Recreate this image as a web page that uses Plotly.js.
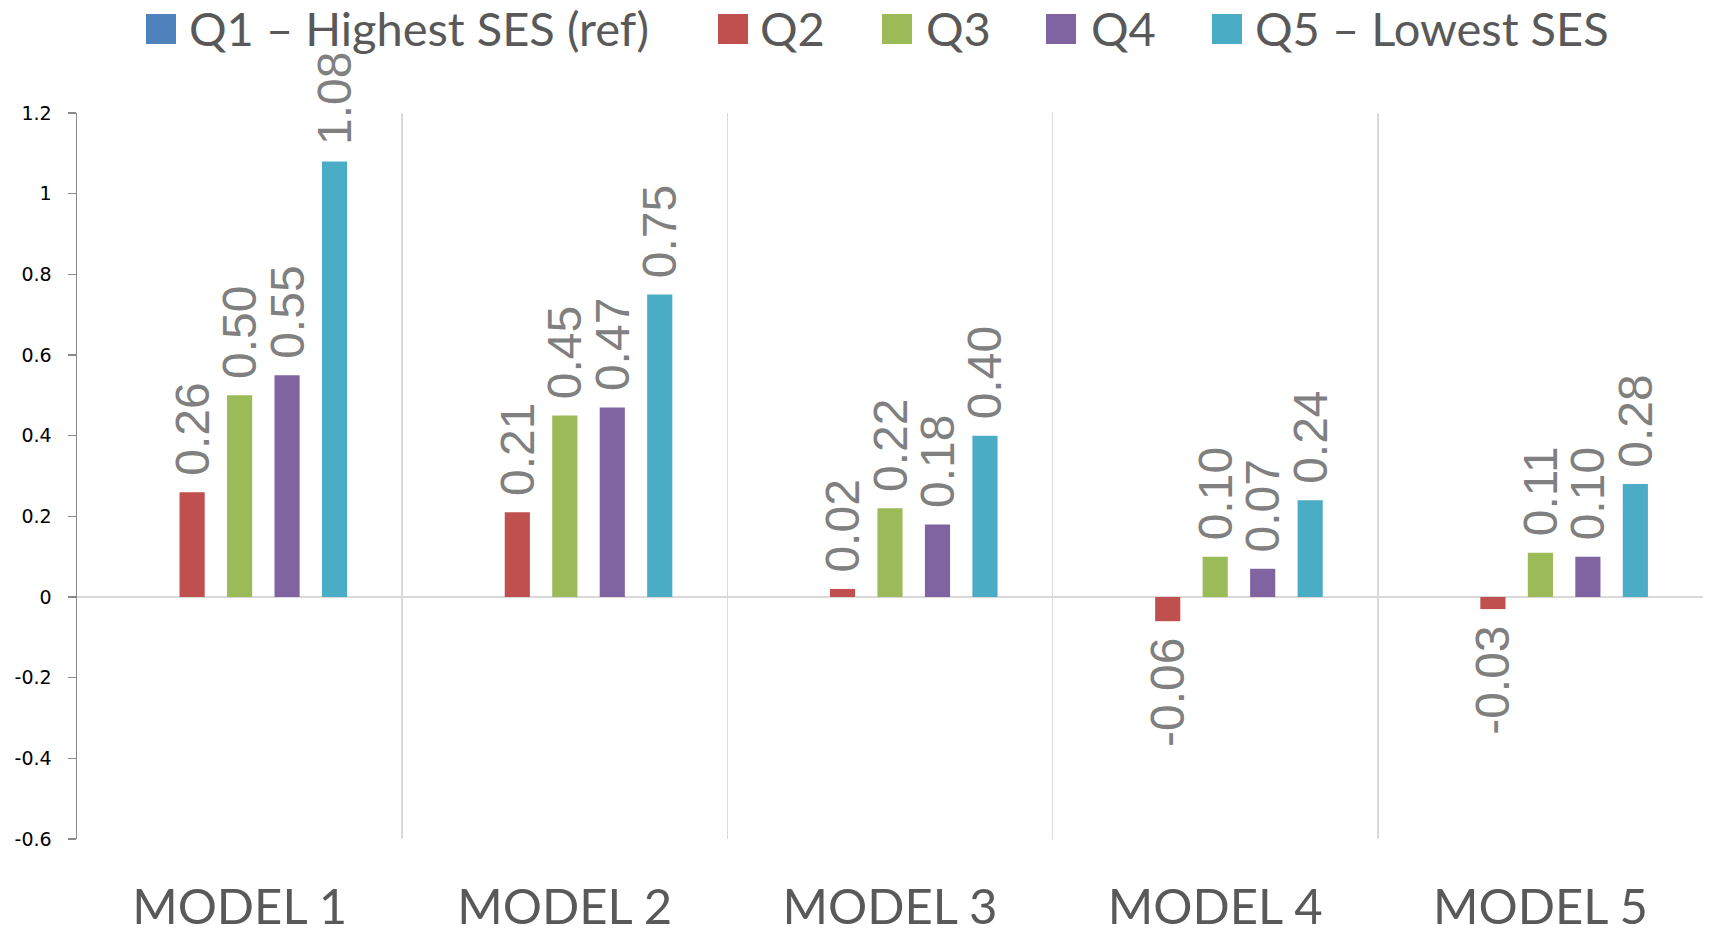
<!DOCTYPE html>
<html>
<head>
<meta charset="utf-8">
<script src="https://cdn.plot.ly/plotly-3.0.1.min.js"></script>
<style>
  html, body { margin: 0; padding: 0; background: #ffffff; }
  #chart { width: 1710px; height: 929px; }
</style>
</head>
<body>
<div id="chart"></div>
<script>
// Categories and series (coefficients by SES quintile, Q1 is the reference group)
const categories = ['MODEL 1', 'MODEL 2', 'MODEL 3', 'MODEL 4', 'MODEL 5'];
const seriesNames = ['Q1 – Highest SES (ref)', 'Q2', 'Q3', 'Q4', 'Q5 – Lowest SES'];
const seriesColors = ['#4f81bd', '#c0504d', '#9bbb59', '#8064a2', '#4bacc6'];
const q1Values = [0, 0, 0, 0, 0];
const q2Values = [0.26, 0.21, 0.02, -0.06, -0.03];
const q3Values = [0.50, 0.45, 0.22, 0.10, 0.11];
const q4Values = [0.55, 0.47, 0.18, 0.07, 0.10];
const q5Values = [1.08, 0.75, 0.40, 0.24, 0.28];
const yTickValues = [-0.6, -0.4, -0.2, 0, 0.2, 0.4, 0.6, 0.8, 1, 1.2];
const yTickLabels = ['-0.6', '-0.4', '-0.2', '0', '0.2', '0.4', '0.6', '0.8', '1', '1.2'];

const seriesValues = [q1Values, q2Values, q3Values, q4Values, q5Values];
const showValueLabels = [false, true, true, true, true];

// Page geometry
const W = 1710, H = 929;
const M = { l: 77, r: 7, t: 113, b: 90 };
const plotW = W - M.l - M.r;
const plotH = H - M.t - M.b;
const pxToPaperX = px => (px - M.l) / plotW;
const pxToPaperY = py => (H - M.b - py) / plotH;

// Small gap between the bar end and its rotated value label
const NBSP = '\u00a0';
const labelFor = v => (v < 0 ? v.toFixed(2) + NBSP : NBSP + v.toFixed(2));

const traces = seriesValues.map((vals, i) => ({
  type: 'bar',
  name: seriesNames[i],
  x: categories,
  y: vals,
  marker: { color: seriesColors[i], line: { width: 0 } },
  text: showValueLabels[i] ? vals.map(labelFor) : vals.map(() => ''),
  textposition: 'outside',
  textangle: -90,
  constraintext: 'none',
  cliponaxis: false,
  textfont: { family: 'Liberation Sans, Arial, sans-serif', size: 48, color: '#808080' },
  hoverinfo: 'skip',
  showlegend: false
}));

// Legend drawn as colour squares and text labels across the top
const legendSwatchLeft = [146, 718, 882, 1046, 1212];
const legendTextLeft = [188, 759, 925, 1090, 1254];
const legendMidY = 29;
const swatch = 30;

const shapes = seriesNames.map((n, i) => ({
  type: 'rect',
  xref: 'paper', yref: 'paper',
  x0: pxToPaperX(legendSwatchLeft[i]),
  x1: pxToPaperX(legendSwatchLeft[i] + swatch),
  y0: pxToPaperY(legendMidY + swatch / 2),
  y1: pxToPaperY(legendMidY - swatch / 2),
  fillcolor: seriesColors[i],
  line: { width: 0 }
}));

const annotations = seriesNames.map((n, i) => ({
  xref: 'paper', yref: 'paper',
  x: pxToPaperX(legendTextLeft[i]),
  y: pxToPaperY(legendMidY - 1),
  xanchor: 'left', yanchor: 'middle',
  text: n,
  showarrow: false,
  borderpad: 0,
  font: { family: 'Lato, sans-serif', size: 47, color: '#595959' }
}));

const layout = {
  width: W, height: H,
  margin: M,
  paper_bgcolor: '#ffffff',
  plot_bgcolor: '#ffffff',
  barmode: 'group',
  bargap: 0.27,
  bargroupgap: 0.47,
  showlegend: false,
  xaxis: {
    type: 'category',
    showgrid: true,
    gridcolor: '#d9d9d9',
    gridwidth: 1.5,
    tickson: 'boundaries',
    ticks: '',
    showline: false,
    zeroline: false,
    ticklabelstandoff: 35,
    tickfont: { family: 'Lato, sans-serif', size: 49, color: '#595959' }
  },
  yaxis: {
    range: [-0.6, 1.2],
    tickmode: 'array',
    tickvals: yTickValues,
    ticktext: yTickLabels,
    showgrid: false,
    zeroline: true,
    zerolinecolor: '#d9d9d9',
    zerolinewidth: 2,
    showline: true,
    linecolor: '#898989',
    linewidth: 1.5,
    ticks: 'outside',
    ticklen: 8,
    tickwidth: 1.5,
    tickcolor: '#898989',
    ticklabelstandoff: 12,
    tickfont: { family: 'DejaVu Sans, sans-serif', size: 19, color: '#000000' }
  },
  shapes: shapes,
  annotations: annotations
};

Plotly.newPlot('chart', traces, layout, { staticPlot: true, displayModeBar: false });
</script>
</body>
</html>
